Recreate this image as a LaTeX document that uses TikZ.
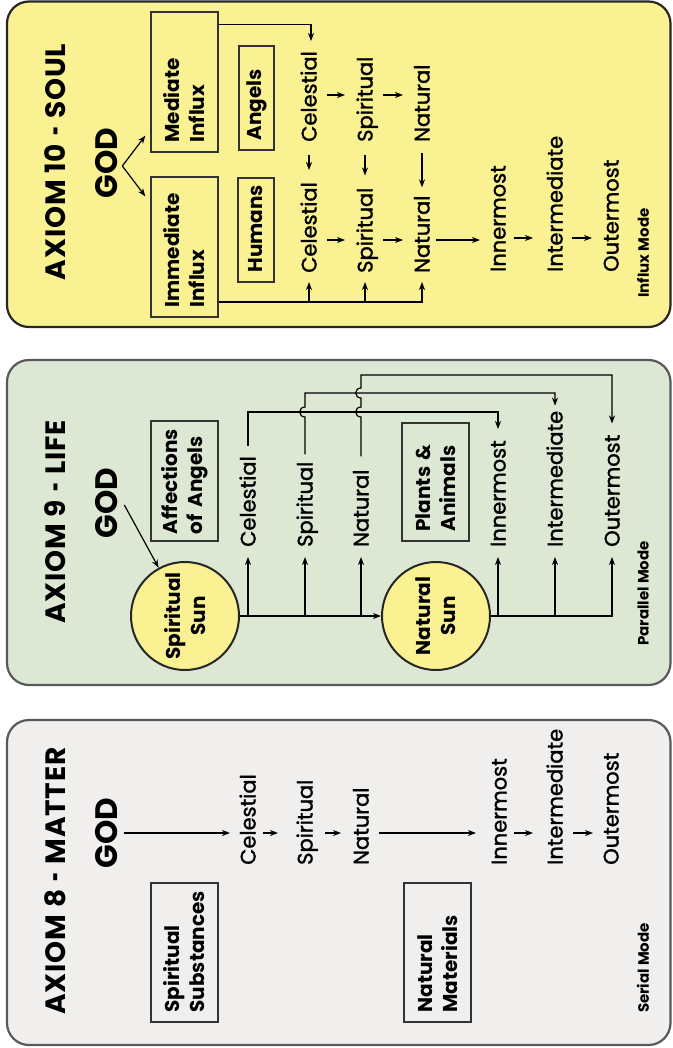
\documentclass[tikz,border=0pt]{standalone}
\usepackage{fontspec}
\setmainfont{Poppins}
\usetikzlibrary{arrows.meta,calc}
\definecolor{ylw}{RGB}{250,241,146}
\definecolor{grn}{RGB}{221,232,212}
\definecolor{gry}{RGB}{240,239,237}
\newcommand{\shdash}{\makebox[0.42em][c]{\scalebox{0.55}[1]{-}}}
\begin{document}
\begin{tikzpicture}[x=1pt,y=-1pt,
 panel/.style={line width=2.2pt, rounded corners=22pt},
 lbl/.style={rotate=90, anchor=west, inner sep=0pt, text height=15pt, text depth=0pt, font=\fontsize{21}{24}\selectfont\addfontfeatures{FakeBold=1.5}},
 ttl/.style={rotate=90, inner sep=0pt, font=\fontsize{28}{30}\bfseries\selectfont\addfontfeatures{LetterSpace=3}},
 godst/.style={rotate=90, inner sep=0pt, font=\fontsize{31}{32}\bfseries\selectfont},
 mode/.style={rotate=90, inner sep=0pt, font=\fontsize{15}{16}\bfseries\selectfont},
 boxst/.style={rotate=90, draw=black!80, line width=1.3pt, align=left, inner xsep=9.5pt, inner ysep=0pt, font=\fontsize{20}{25}\bfseries\selectfont},
 sun/.style={circle, draw=black!85, line width=2pt, fill=ylw, minimum size=108pt, inner sep=0pt, align=center, rotate=90, font=\fontsize{20}{25}\bfseries\selectfont},
 arr/.style={-{Stealth[length=8pt,width=6pt,inset=2.5pt]}, line width=1.2pt},
 ln/.style={line width=1.2pt},
]
\useasboundingbox (0,0) rectangle (672,1048);
% panels
\draw[panel, draw=black!85, fill=ylw] (7,1.5) rectangle (670.5,327);
\draw[panel, draw=black!65, fill=grn] (7,360) rectangle (670.5,685);
\draw[panel, draw=black!65, fill=gry] (7,720) rectangle (670.5,1045);

% ===== AXIOM 10 =====
\node[ttl] (t10) at (55,162) {AXIOM 10 \shdash{} SOUL};
\node[godst] (g10) at (107,163) {GOD};
\node[boxst, text width=121pt, minimum height=67pt] (med) at (184.5,82) {Mediate\\Influx};
\node[boxst, text width=121pt, minimum height=67pt] (imm) at (184.5,247) {Immediate\\Influx};
\node[boxst, text width=85pt, minimum height=35pt] (ang) at (256.5,98) {Angels};
\node[boxst, text width=85pt, minimum height=36pt] (hum) at (256,230) {Humans};
\node[lbl] (c10u) at (309,142) {Celestial};
\node[lbl] (s10u) at (365,142) {Spiritual};
\node[lbl] (n10u) at (422,142) {Natural};
\node[lbl] (c10l) at (309,273) {Celestial};
\node[lbl] (s10l) at (365,273) {Spiritual};
\node[lbl] (n10l) at (422,273) {Natural};
\node[lbl] (i10) at (498,272) {Innermost};
\node[lbl] (m10) at (555,272) {Intermediate};
\node[lbl] (o10) at (611,272) {Outermost};
\node[mode] (md10) at (643,253) {Influx Mode};
\coordinate (r10u) at (0,95);
\coordinate (r10l) at (0,240);
\coordinate (r10m) at (0,238);
\coordinate (f10) at (0,302);
\draw[arr] ($(g10.south)+(4,3)$) -- ($(med.north west)+(-5,-17)$);
\draw[arr] ($(g10.south)+(4,3)$) -- ($(imm.north east)+(-5,20)$);
\draw[arr] ($(med.south east)+(0,13)$) -| ($(c10u.east)+(2,-10)$);
\draw[arr] ($(c10u.west |- r10u)+(18,0)$) -- ($(s10u.west |- r10u)+(-20,0)$);
\draw[arr] ($(s10u.west |- r10u)+(18,0)$) -- ($(n10u.west |- r10u)+(-19,0)$);
\draw[arr] ($(c10u.west)+(0,13)$) -- ($(c10l.east)+(0,-12)$);
\draw[arr] ($(s10u.west)+(0,13)$) -- ($(s10l.east)+(0,-12)$);
\draw[arr] ($(n10u.west)+(0,11)$) -- ($(n10l.east)+(0,-8)$);
\draw[arr] ($(c10l.west |- r10l)+(18,0)$) -- ($(s10l.west |- r10l)+(-20,0)$);
\draw[arr] ($(s10l.west |- r10l)+(18,0)$) -- ($(n10l.west |- r10l)+(-19,0)$);
\draw[arr] ($(n10l.west |- r10l)+(14,0)$) -- ($(i10.west |- r10l)+(-18,0)$);
\draw[arr] ($(i10.west |- r10m)+(16,0)$) -- ($(m10.west |- r10m)+(-22,0)$);
\draw[arr] ($(m10.west |- r10m)+(17,0)$) -- ($(o10.west |- r10m)+(-19,0)$);
\draw[arr] (imm.south |- f10) -| ($(n10l.west)+(0,9)$);
\draw[arr] (c10l.west |- f10) -- ($(c10l.west)+(0,9)$);
\draw[arr] (s10l.west |- f10) -- ($(s10l.west)+(0,9)$);

% ===== AXIOM 9 =====
\node[ttl] (t9) at (55,522) {AXIOM 9 \shdash{} LIFE};
\node[godst] (g9) at (107,503) {GOD};
\node[sun] (ss) at (185,616) {Spiritual\\Sun};
\node[sun] (ns) at (436,616) {Natural\\Sun};
\node[boxst, text width=106pt, inner xsep=7pt, minimum height=67pt] (aff) at (184.5,481) {Affections\\of Angels};
\node[boxst, text width=99pt, minimum height=67pt] (pla) at (435.5,482) {Plants \&\\Animals};
\node[lbl] (c9) at (248,547) {Celestial};
\node[lbl] (s9) at (305,547) {Spiritual};
\node[lbl] (n9) at (361,547) {Natural};
\node[lbl] (i9) at (498,547) {Innermost};
\node[lbl] (m9) at (555,547) {Intermediate};
\node[lbl] (o9) at (612,547) {Outermost};
\node[mode] (md9) at (643,593.5) {Parallel Mode};
\coordinate (h1) at (0,412);
\coordinate (h2) at (0,393);
\coordinate (h3) at (0,375);
\draw[arr] ($(g9.south)+(6,2)$) -- (ss);
\draw[arr] (ss.south) -- (ns.north);
\draw[arr] (c9.west |- ss.south) -- ($(c9.west)+(0,10)$);
\draw[arr] (s9.west |- ss.south) -- ($(s9.west)+(0,10)$);
\draw[arr] (n9.west |- ss.south) -- ($(n9.west)+(0,10)$);
\draw[arr] (ns.south) -| ($(o9.west)+(0,10)$);
\draw[arr] (i9.west |- ns.south) -- ($(i9.west)+(0,10)$);
\draw[arr] (m9.west |- ns.south) -- ($(m9.west)+(0,10)$);
\draw[arr] ($(c9.east)+(0,-10)$) -- (c9.east |- h1) -| ($(i9.east)+(0,-11)$);
\draw[arr] ($(s9.east)+(0,-7)$) -- ($(s9.east |- h1)+(0,5)$)
  .. controls +(-7,0) and +(-7,0) .. ($(s9.east |- h1)+(0,-5)$)
  -- (s9.east |- h2) -| ($(m9.east)+(0,-5)$);
\draw[arr] ($(n9.east)+(0,-13)$) -- ($(n9.east |- h1)+(0,5)$)
  .. controls +(-7,0) and +(-7,0) .. ($(n9.east |- h1)+(0,-5)$)
  -- ($(n9.east |- h2)+(0,5)$)
  .. controls +(-7,0) and +(-7,0) .. ($(n9.east |- h2)+(0,-5)$)
  -- (n9.east |- h3) -| ($(o9.east)+(0,-11)$);

% ===== AXIOM 8 =====
\node[ttl] (t8) at (55,881) {AXIOM 8 \shdash{} MATTER};
\node[godst] (g8) at (107,833) {GOD};
\node[boxst, text width=120pt, minimum height=67pt] (sub) at (184.5,952.5) {Spiritual\\Substances};
\node[boxst, text width=120pt, minimum height=67pt] (mat) at (437.5,952.5) {Natural\\Materials};
\node[lbl] (c8) at (248,865) {Celestial};
\node[lbl] (s8) at (305,865) {Spiritual};
\node[lbl] (n8) at (361,865) {Natural};
\node[lbl] (i8) at (499,865) {Innermost};
\node[lbl] (m8) at (555,865) {Intermediate};
\node[lbl] (o8) at (611,865) {Outermost};
\node[mode] (md8) at (643,968) {Serial Mode};
\coordinate (r8) at (0,833);
\draw[arr] ($(g8.south |- r8)+(6,0)$) -- ($(c8.west |- r8)+(-18,0)$);
\draw[arr] ($(c8.west |- r8)+(15,0)$) -- ($(s8.west |- r8)+(-27,0)$);
\draw[arr] ($(s8.west |- r8)+(20,0)$) -- ($(n8.west |- r8)+(-20,0)$);
\draw[arr] ($(n8.west |- r8)+(18,0)$) -- ($(i8.west |- r8)+(-23,0)$);
\draw[arr] ($(i8.west |- r8)+(15,0)$) -- ($(m8.west |- r8)+(-22,0)$);
\draw[arr] ($(m8.west |- r8)+(18,0)$) -- ($(o8.west |- r8)+(-18,0)$);
\end{tikzpicture}
\end{document}
